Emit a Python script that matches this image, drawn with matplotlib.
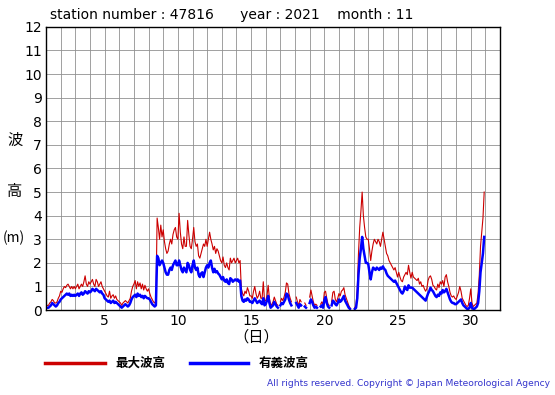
import numpy as np
import matplotlib
matplotlib.use("Agg")
import matplotlib.pyplot as plt

nan = float("nan")

# 2-hourly samples, November 2021, station 47816 (day 1 00h .. day 30 22h)
sig_wave = [
    0.1,0.1,0.1,0.15,0.2,0.3,0.25,0.2,0.15,0.2,0.3,0.35,          # 1
    0.45,0.5,0.55,0.6,0.65,0.7,0.65,0.7,0.6,0.65,0.6,0.65,        # 2
    0.6,0.65,0.7,0.6,0.7,0.75,0.65,0.7,0.8,0.75,0.7,0.8,          # 3
    0.75,0.8,0.9,0.85,0.8,0.9,0.85,0.8,0.75,0.8,0.7,0.65,         # 4
    0.5,0.45,0.4,0.35,0.4,0.3,0.35,0.4,0.3,0.35,0.3,0.25,         # 5
    0.2,0.15,0.1,0.15,0.2,0.25,0.2,0.15,0.2,0.3,0.45,0.55,        # 6
    0.6,0.65,0.55,0.7,0.6,0.65,0.55,0.6,0.5,0.6,0.55,0.5,         # 7
    0.5,0.45,0.35,0.25,0.2,0.15,0.2,2.3,2.2,1.9,2.0,2.1,          # 8
    2.0,1.8,1.6,1.5,1.5,1.7,1.8,1.7,1.9,2.0,2.1,1.9,              # 9
    1.9,2.1,1.9,1.7,1.6,1.8,1.7,1.6,2.0,1.9,1.7,1.6,              # 10
    1.9,2.1,1.8,1.7,1.8,1.5,1.4,1.55,1.6,1.4,1.6,1.8,             # 11
    1.9,1.8,2.0,2.1,1.8,1.6,1.75,1.6,1.65,1.55,1.5,1.4,           # 12
    1.3,1.4,1.25,1.2,1.3,1.15,1.1,1.35,1.3,1.2,1.25,1.3,          # 13
    1.25,1.3,1.2,1.25,0.6,0.4,0.35,0.45,0.4,0.5,0.45,0.35,        # 14
    0.35,0.3,0.4,0.5,0.4,0.3,0.35,0.4,0.3,0.25,0.5,0.2,           # 15
    0.25,0.4,0.6,0.3,0.1,0.15,0.2,0.35,0.25,0.15,0.1,nan,         # 16
    0.2,0.3,0.25,0.35,0.45,0.7,0.65,0.45,0.3,0.2,nan,nan,         # 17
    nan,0.3,0.2,0.1,0.25,0.2,nan,nan,0.15,0.1,nan,nan,            # 18
    0.3,0.45,0.35,0.2,0.1,0.15,0.1,nan,nan,0.15,0.2,0.1,          # 19
    0.4,0.55,0.3,0.15,0.1,nan,0.2,0.4,0.35,0.25,0.2,0.3,          # 20
    0.45,0.35,0.4,0.5,0.6,0.4,0.3,0.2,0.1,0.05,nan,nan,           # 21
    nan,0.05,0.1,0.5,1.5,2.2,2.6,3.1,2.6,2.3,2.0,2.0,             # 22
    1.95,1.6,1.3,1.6,1.8,1.75,1.7,1.8,1.75,1.7,1.8,1.75,          # 23
    1.85,1.75,1.7,1.55,1.45,1.4,1.35,1.3,1.25,1.2,1.25,1.15,      # 24
    1.05,0.95,0.85,0.75,0.7,0.8,1.0,0.9,0.85,1.05,0.95,0.95,      # 25
    0.95,0.9,0.85,0.8,0.75,0.7,0.65,0.6,0.55,0.5,0.45,0.4,        # 26
    0.55,0.7,0.8,0.95,0.85,0.8,0.7,0.6,0.55,0.65,0.6,0.75,        # 27
    0.7,0.85,0.75,0.8,0.9,0.75,0.6,0.45,0.35,0.3,0.3,0.25,        # 28
    0.25,0.3,0.35,0.4,0.45,0.3,0.2,0.15,0.1,0.05,0.05,0.1,        # 29
    0.3,0.1,0.05,0.05,0.1,0.15,0.3,0.8,1.6,2.0,2.4,3.1,           # 30
]

max_wave = [
    0.15,0.2,0.2,0.3,0.35,0.45,0.4,0.3,0.3,0.35,0.5,0.6,          # 1
    0.8,0.75,0.9,1.0,0.95,1.05,1.1,1.0,0.9,1.0,0.9,1.0,           # 2
    0.9,1.0,1.1,0.9,1.0,1.1,1.0,1.2,1.45,1.1,1.0,1.2,             # 3
    1.1,1.2,1.3,1.1,1.0,1.3,1.2,1.0,1.1,1.2,1.0,0.9,              # 4
    0.8,0.7,0.6,0.55,0.8,0.5,0.6,0.65,0.5,0.6,0.45,0.4,           # 5
    0.35,0.3,0.2,0.3,0.35,0.4,0.35,0.3,0.4,0.5,0.8,1.0,           # 6
    1.1,1.25,0.9,1.2,1.0,1.15,0.9,1.1,0.85,1.05,0.9,0.8,          # 7
    0.9,0.7,0.55,0.45,0.35,0.3,0.4,3.9,3.5,3.0,3.6,3.1,           # 8
    3.4,2.9,2.6,2.4,2.5,2.8,3.0,2.8,3.2,3.4,3.5,3.1,              # 9
    3.0,4.1,3.3,2.8,2.6,3.1,2.7,2.7,3.8,3.2,2.7,2.6,              # 10
    3.0,3.5,2.9,2.7,2.8,2.3,2.2,2.4,2.6,2.8,2.7,3.0,              # 11
    2.7,3.0,3.3,3.0,2.8,2.55,2.7,2.4,2.6,2.5,2.3,2.1,             # 12
    2.0,2.25,1.9,1.8,2.0,1.8,1.7,2.2,2.0,2.1,2.2,2.0,             # 13
    2.1,2.2,2.0,2.1,0.9,0.7,0.6,0.8,0.7,0.95,0.8,0.6,             # 14
    0.6,0.5,0.8,1.0,0.7,0.5,0.6,0.8,0.5,0.5,1.2,0.4,              # 15
    0.4,0.6,1.05,0.5,0.2,0.25,0.35,0.55,0.4,0.25,0.2,nan,         # 16
    0.35,0.5,0.4,0.55,0.75,1.15,1.1,0.7,0.5,0.35,nan,nan,         # 17
    nan,0.55,0.35,0.2,0.45,0.35,nan,nan,0.3,0.2,nan,nan,          # 18
    0.55,0.85,0.6,0.35,0.2,0.25,0.2,nan,nan,0.25,0.35,0.2,        # 19
    0.75,0.8,0.5,0.25,0.2,nan,0.35,0.75,0.8,0.45,0.35,0.5,        # 20
    0.7,0.6,0.8,0.85,0.95,0.65,0.5,0.35,0.2,0.1,nan,nan,          # 21
    nan,0.1,0.2,0.9,2.4,3.5,4.2,5.0,4.0,3.5,3.1,3.0,              # 22
    3.0,2.6,2.1,2.5,2.8,3.0,2.9,2.8,3.0,2.9,2.7,3.0,              # 23
    3.3,3.0,2.7,2.4,2.3,2.1,2.0,1.9,1.8,1.7,1.8,1.6,              # 24
    1.4,1.6,1.4,1.25,1.2,1.4,1.5,1.6,1.5,1.9,1.6,1.35,            # 25
    1.6,1.4,1.35,1.3,1.25,1.35,1.1,1.2,1.0,1.05,0.9,0.8,          # 26
    0.9,1.25,1.4,1.45,1.3,1.05,1.0,0.9,0.85,1.1,0.95,1.2,         # 27
    1.1,1.25,1.0,1.4,1.5,1.2,1.0,0.75,0.6,0.55,0.6,0.5,           # 28
    0.45,0.6,0.75,1.0,0.8,0.5,0.4,0.3,0.2,0.15,0.2,0.5,           # 29
    0.9,0.3,0.15,0.2,0.25,0.3,0.7,1.5,2.7,3.3,3.9,5.0,            # 30
]

x_ticks = [5, 10, 15, 20, 25, 30]
y_ticks = list(range(0, 13))
title_text = "station number : 47816      year : 2021    month : 11"
legend_labels = ["最大波高", "有義波高"]

jp = ["Noto Sans CJK JP", "DejaVu Sans"]
RED = "#cc0000"
BLUE = "#0000ff"

t = 1 + np.arange(len(sig_wave)) / 12.0

fig = plt.figure(figsize=(5.55, 3.95), dpi=100)
ax = fig.add_axes([0.083, 0.215, 0.818, 0.717])

ax.plot(t, max_wave, color=RED, lw=0.8)
ax.plot(t, sig_wave, color=BLUE, lw=1.8)

ax.set_xlim(1, 32)
ax.set_ylim(0, 12)
ax.set_xticks(np.arange(1, 33))
ax.set_xticklabels([str(d) if d in x_ticks else "" for d in range(1, 33)])
ax.set_yticks(y_ticks)
ax.set_yticklabels([str(v) for v in y_ticks])
ax.grid(True, color="#909090", lw=0.6)
ax.set_axisbelow(True)
ax.tick_params(length=0, labelsize=10, pad=3)
for s in ax.spines.values():
    s.set_color("black")
    s.set_linewidth(1.0)

fig.text(50 / 555, 1 - 15 / 395, title_text, fontsize=10, va="center", ha="left")

# vertical y label
fig.text(15 / 555, 1 - 140 / 395, "波", fontsize=11, family=jp, ha="center", va="center")
fig.text(15 / 555, 1 - 192 / 395, "高", fontsize=11, family=jp, ha="center", va="center")
fig.text(14 / 555, 1 - 238 / 395, "(m)", fontsize=10, family=jp, ha="center", va="center")

fig.text(256 / 555, 1 - 337 / 395, "（日）", fontsize=11, family=jp, ha="center", va="center")

# legend
ly = 1 - 363 / 395
fig.add_artist(plt.Line2D([45 / 555, 105 / 555], [ly, ly], color=RED, lw=2.5, transform=fig.transFigure))
fig.text(115 / 555, ly, legend_labels[0], fontsize=9, family=jp, weight="bold", va="center", ha="left")
fig.add_artist(plt.Line2D([190 / 555, 248 / 555], [ly, ly], color=BLUE, lw=2.5, transform=fig.transFigure))
fig.text(259 / 555, ly, legend_labels[1], fontsize=9, family=jp, weight="bold", va="center", ha="left")

fig.text(550 / 555, 1 - 384 / 395,
         "All rights reserved. Copyright © Japan Meteorological Agency",
         fontsize=6.6, color="#3333cc", ha="right", va="center")

fig.savefig("out.png", dpi=100)
